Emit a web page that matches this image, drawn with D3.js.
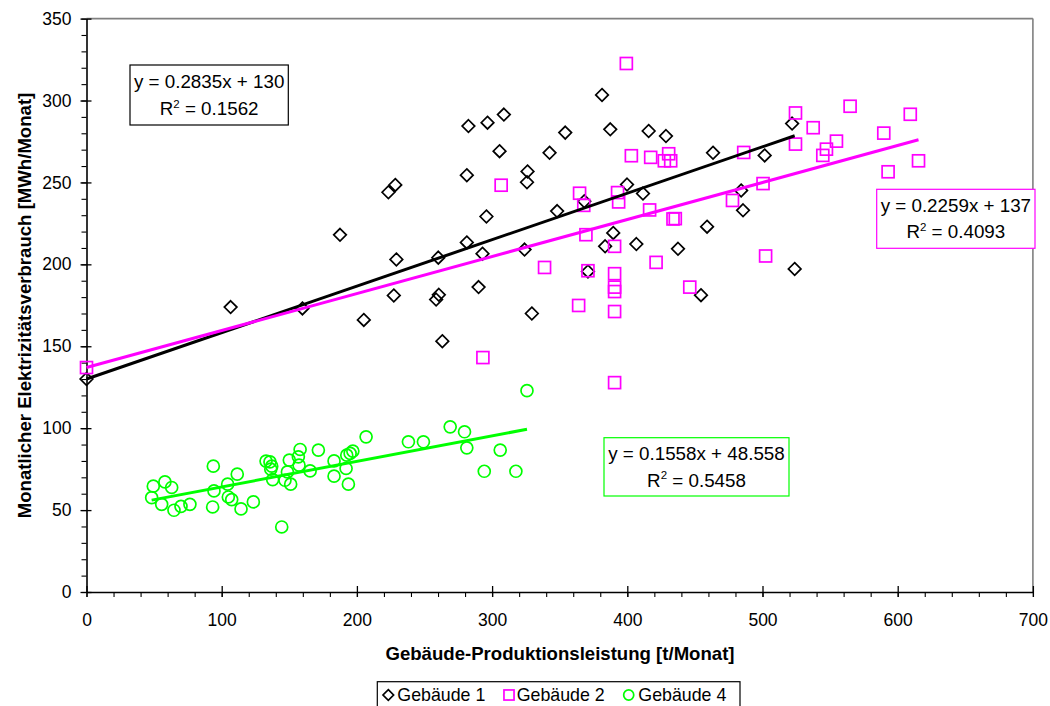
<!DOCTYPE html>
<html>
<head>
<meta charset="utf-8">
<script src="https://cdn.jsdelivr.net/npm/d3@7"></script>
<style>
  html, body { margin: 0; padding: 0; background: #fff; }
  svg { display: block; font-family: Arial, "Liberation Sans", sans-serif; }
</style>
</head>
<body>
<svg id="chart" width="1050" height="706"></svg>
<script>
// Production output [t/Monat] vs. electricity use [MWh/Monat], monthly values per building
const gebaeude1 = [
  [0, 130], [106.6, 173.9], [159.7, 173.1], [187.5, 218], [205.1, 166.1],
  [223.3, 244], [228.4, 248.5], [227.3, 181], [229.2, 203], [260.2, 204.1],
  [258.6, 178.5], [260.6, 181.4], [263.2, 153.1], [281.3, 254.4], [282.5, 284.4],
  [281.3, 213.4], [290, 186.1], [292.9, 206.5], [295.8, 229.2], [296.6, 286.5],
  [305.5, 269.1], [308.7, 291.4], [324, 209], [326.2, 256.7], [325.8, 250.1],
  [329.4, 170], [342.5, 268.1], [348.1, 232.5], [354.1, 280.4], [368.2, 238.5],
  [370.9, 195.7], [381.3, 303.4], [383.6, 211], [387.4, 282.4], [389.6, 219.2],
  [399.8, 248.7], [406.7, 212.4], [411.6, 243.2], [415.8, 281.4], [428.6, 278.3],
  [437.5, 209.5], [454.5, 181.2], [459, 223], [463.4, 268.1], [484.2, 245.1],
  [485.6, 233], [501.6, 266.5], [521.9, 285.9], [523.8, 197.2]
];
const gebaeude2 = [
  [0, 137], [293.2, 143.1], [306.7, 248.3], [338.8, 198.1], [364, 174.9],
  [364.7, 243.4], [367.8, 236], [369.4, 218.1], [370.9, 196.1], [390.6, 211],
  [390.6, 194.3], [390.6, 186.1], [390.6, 183.4], [390.6, 171.2], [390.6, 127.8],
  [392.8, 243.8], [393.6, 238.1], [399.3, 322.6], [403, 266.3], [416.5, 233.2],
  [417.3, 265.3], [421.3, 201.2], [427.4, 263.2], [430.6, 267.5], [432.1, 263.2],
  [433.8, 227.7], [435.5, 227.9], [446.2, 186.1], [477.8, 239], [486.1, 268.3],
  [500.4, 249.3], [502.3, 205.1], [524.4, 292.4], [524.4, 273.4], [537.5, 283.4],
  [544.6, 266.5], [547.3, 270.3], [554.7, 275.2], [564.8, 296.5], [589.7, 280.1],
  [592.9, 256.5], [609.3, 291.6], [615.4, 263.2]
];
const gebaeude4 = [
  [49.4, 64.6], [58, 67.2], [63, 63.8], [48.2, 57.6], [55.6, 53.5],
  [64.7, 49.9], [69.9, 52.3], [76.5, 53.5], [93.8, 76.8], [94.3, 61.7],
  [93.3, 51.9], [104.4, 65.8], [111.5, 71.9], [104.9, 58], [107.4, 56.4],
  [114.3, 50.7], [123.4, 55], [144.4, 39.7], [132.8, 79.9], [135.7, 79.4],
  [137, 76.8], [136.3, 75], [137.7, 68.6], [146.8, 68.2], [151, 65.8],
  [148.6, 73.3], [150, 80.5], [156.7, 82.5], [158, 87], [157.2, 77.4],
  [165.4, 73.9], [171.5, 86.6], [183.1, 80], [183.1, 70.7], [192.5, 83.5],
  [195, 84.6], [197, 86], [192, 75.4], [193.7, 65.8], [206.8, 94.7],
  [238.1, 91.7], [249.2, 91.7], [269, 100.8], [279.6, 97.8], [281.3, 88],
  [294.2, 73.7], [306, 86.6], [317.6, 73.7], [325.8, 122.9]
];

// Linear trend lines (slope, intercept, R²) as stated in the annotation boxes
const trendSlopes = [0.2835, 0.2259, 0.1558];
const trendIntercepts = [130, 137, 48.558];
const trendR2 = ["0.1562", "0.4093", "0.5458"];
const trendEquations = ["y = 0.2835x + 130", "y = 0.2259x + 137", "y = 0.1558x + 48.558"];

const seriesNames = ["Gebäude 1", "Gebäude 2", "Gebäude 4"];
const xTicks = [0, 100, 200, 300, 400, 500, 600, 700];
const yTicks = [0, 50, 100, 150, 200, 250, 300, 350];
const xTitle = "Gebäude-Produktionsleistung [t/Monat]";
const yTitle = "Monatlicher Elektrizitätsverbrauch [MWh/Monat]";

const colors = ["#000000", "#FF00FF", "#00FF00"];
const shapes = ["diamond", "square", "circle"];
const seriesData = [gebaeude1, gebaeude2, gebaeude4];

const svg = d3.select("#chart");
const plot = { left: 86.5, right: 1032.9, top: 18.6, bottom: 592 };

const x = d3.scaleLinear().domain([0, 700]).range([plot.left, plot.right]);
const y = d3.scaleLinear().domain([0, 350]).range([plot.bottom, plot.top]);

// Plot frame: grey top and right edges
svg.append("line")
  .attr("x1", plot.left).attr("x2", plot.right)
  .attr("y1", plot.top).attr("y2", plot.top)
  .attr("stroke", "#808080").attr("stroke-width", 1.6);
svg.append("line")
  .attr("x1", plot.right).attr("x2", plot.right)
  .attr("y1", plot.top).attr("y2", plot.bottom)
  .attr("stroke", "#808080").attr("stroke-width", 1.6);

// Minor ticks
svg.append("g")
  .attr("transform", `translate(0,${plot.bottom})`)
  .call(d3.axisBottom(x).tickValues(d3.range(0, 701, 20)).tickSize(5).tickFormat(""))
  .call(g => g.select(".domain").remove())
  .call(g => g.selectAll("line").attr("stroke", "#000").attr("stroke-width", 1.1));
svg.append("g")
  .attr("transform", `translate(${plot.left},0)`)
  .call(d3.axisLeft(y).tickValues(d3.range(0, 351, 10)).tickSize(5).tickFormat(""))
  .call(g => g.select(".domain").remove())
  .call(g => g.selectAll("line").attr("stroke", "#000").attr("stroke-width", 1.1));

// Major axes with crossing ticks
const xAxis = svg.append("g")
  .attr("transform", `translate(0,${plot.bottom})`)
  .call(d3.axisBottom(x).tickValues(xTicks).tickSizeInner(5).tickSizeOuter(0).tickPadding(16.5).tickFormat(d3.format("d")));
xAxis.selectAll(".tick line").attr("y1", -6).attr("y2", 5).attr("stroke", "#000").attr("stroke-width", 1.3);
xAxis.select(".domain").attr("stroke", "#000").attr("stroke-width", 1.6);
xAxis.selectAll("text").attr("font-size", 17.5).attr("fill", "#000")
  .attr("font-family", "Arial, 'Liberation Sans', sans-serif");

const yAxis = svg.append("g")
  .attr("transform", `translate(${plot.left},0)`)
  .call(d3.axisLeft(y).tickValues(yTicks).tickSizeInner(6).tickSizeOuter(0).tickPadding(9).tickFormat(d3.format("d")));
yAxis.selectAll(".tick line").attr("x1", 5).attr("x2", -6).attr("stroke", "#000").attr("stroke-width", 1.3);
yAxis.select(".domain").attr("stroke", "#000").attr("stroke-width", 1.6);
yAxis.selectAll("text").attr("font-size", 17.5).attr("fill", "#000")
  .attr("font-family", "Arial, 'Liberation Sans', sans-serif");

// Marker drawing
function marker(sel, shape, color, r) {
  if (shape === "diamond") {
    sel.append("path")
      .attr("d", `M0,${-r}L${r},0L0,${r}L${-r},0Z`)
      .attr("fill", "none").attr("stroke", color).attr("stroke-width", 1.7);
  } else if (shape === "square") {
    const s = r * 0.95;
    sel.append("rect")
      .attr("x", -s).attr("y", -s).attr("width", 2 * s).attr("height", 2 * s)
      .attr("fill", "none").attr("stroke", color).attr("stroke-width", 1.7);
  } else {
    sel.append("circle")
      .attr("r", r * 0.95)
      .attr("fill", "none").attr("stroke", color).attr("stroke-width", 1.7);
  }
}

seriesData.forEach((data, i) => {
  const g = svg.append("g").attr("class", "series-" + i);
  g.selectAll("g.pt")
    .data(data)
    .join("g")
    .attr("class", "pt")
    .attr("transform", d => `translate(${x(d[0])},${y(d[1])})`)
    .each(function () { marker(d3.select(this), shapes[i], colors[i], 6.3); });
});

// Trend lines over each series' x-range
const line = d3.line().x(d => x(d[0])).y(d => y(d[1]));
seriesData.forEach((data, i) => {
  const [x0, x1] = d3.extent(data, d => d[0]);
  const pts = [x0, x1].map(v => [v, trendSlopes[i] * v + trendIntercepts[i]]);
  svg.append("path")
    .datum(pts)
    .attr("d", line)
    .attr("fill", "none")
    .attr("stroke", colors[i])
    .attr("stroke-width", 3);
});

// Equation boxes
const boxes = [
  { x0: 130, y0: 65, x1: 288.3, y1: 125, b1: 88.3, b2: 115 },
  { x0: 876.7, y0: 189.3, x1: 1035, y1: 248.3, b1: 211.7, b2: 238.3 },
  { x0: 604, y0: 437.7, x1: 789, y1: 496, b1: 460, b2: 486.7 }
];
boxes.forEach((b, i) => {
  const g = svg.append("g").attr("class", "eq-box");
  g.append("rect")
    .attr("x", b.x0).attr("y", b.y0)
    .attr("width", b.x1 - b.x0).attr("height", b.y1 - b.y0)
    .attr("fill", "#fff").attr("stroke", colors[i]).attr("stroke-width", 1.2);
  const cx = (b.x0 + b.x1) / 2;
  g.append("text")
    .attr("x", cx).attr("y", b.b1)
    .attr("text-anchor", "middle").attr("font-size", 18.8).attr("fill", "#000")
    .text(trendEquations[i]);
  const t = g.append("text")
    .attr("x", cx).attr("y", b.b2)
    .attr("text-anchor", "middle").attr("font-size", 18.8).attr("fill", "#000");
  t.append("tspan").text("R");
  t.append("tspan").attr("font-size", 11.5).attr("dy", -7.5).text("2");
  t.append("tspan").attr("dy", 7.5).text(" = " + trendR2[i]);
});

// Axis titles
svg.append("text")
  .attr("x", 560).attr("y", 660)
  .attr("text-anchor", "middle")
  .attr("font-size", 18.6).attr("font-weight", "bold").attr("fill", "#000")
  .text(xTitle);
svg.append("text")
  .attr("transform", "translate(31,305.5) rotate(-90)")
  .attr("text-anchor", "middle")
  .attr("font-size", 18.6).attr("font-weight", "bold").attr("fill", "#000")
  .text(yTitle);

// Legend
const legend = svg.append("g").attr("class", "legend");
legend.append("rect")
  .attr("x", 377.3).attr("y", 681.7).attr("width", 362.7).attr("height", 32)
  .attr("fill", "#fff").attr("stroke", "#000").attr("stroke-width", 1.2);
const legendMarkX = [388.3, 509, 628.7];
const legendTextX = [397.3, 516.7, 638.3];
seriesNames.forEach((name, i) => {
  const m = legend.append("g").attr("transform", `translate(${legendMarkX[i]},695)`);
  marker(m, shapes[i], colors[i], 5.3);
  legend.append("text")
    .attr("x", legendTextX[i]).attr("y", 700.7)
    .attr("font-size", 17.8).attr("fill", "#000")
    .text(name);
});
</script>
</body>
</html>
